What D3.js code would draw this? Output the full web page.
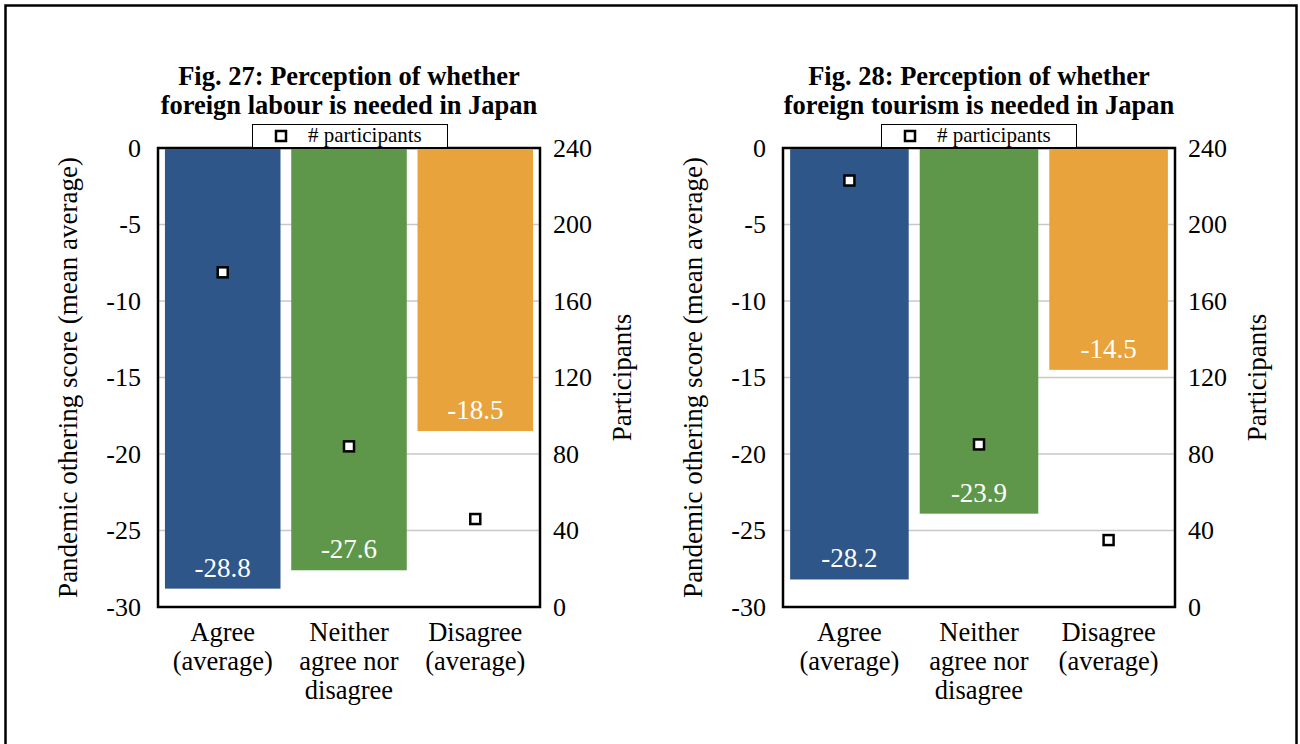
<!DOCTYPE html>
<html>
<head>
<meta charset="utf-8">
<script src="https://cdn.jsdelivr.net/npm/d3@7"></script>
<style>
  html, body { margin: 0; padding: 0; background: #fff; }
  svg { display: block; font-family: "Liberation Serif", "Times New Roman", serif; }
</style>
</head>
<body>
<svg id="chart" width="1300" height="744"></svg>
<script>
// Response categories (each label line is a separate entry)
const categories = ["Agree", "Neither", "Disagree"];
const categoryLines = [["Agree", "(average)"], ["Neither", "agree nor", "disagree"], ["Disagree", "(average)"]];
const barColors = ["#2e5689", "#5e974a", "#e8a33d"];

// Fig. 27: foreign labour
const labourTitle = ["Fig. 27: Perception of whether", "foreign labour is needed in Japan"];
const labourScores = [-28.8, -27.6, -18.5];
const labourParticipants = [175, 84, 46];

// Fig. 28: foreign tourism
const tourismTitle = ["Fig. 28: Perception of whether", "foreign tourism is needed in Japan"];
const tourismScores = [-28.2, -23.9, -14.5];
const tourismParticipants = [223, 85, 35];

// Axis ticks
const scoreTicks = [0, -5, -10, -15, -20, -25, -30];
const participantTicks = [0, 40, 80, 120, 160, 200, 240];

const leftTitle = "Pandemic othering score (mean average)";
const rightTitle = "Participants";
const legendLabel = "# participants";

const svg = d3.select("#chart");

// outer frame
svg.append("rect")
  .attr("x", 5.5).attr("y", 5.5)
  .attr("width", 1291).attr("height", 760)
  .attr("fill", "none").attr("stroke", "#000").attr("stroke-width", 2.5);

function drawPanel(opts) {
  const { x0, x1, y0, y1, title, scores, participants } = opts;
  const g = svg.append("g");

  const x = d3.scaleBand().domain(categories).range([x0, x1]).paddingInner(0.085).paddingOuter(0.055);
  const y = d3.scaleLinear().domain([-30, 0]).range([y1, y0]);
  const y2 = d3.scaleLinear().domain([0, 240]).range([y1, y0]);

  // gridlines
  g.append("g").selectAll("line")
    .data(scoreTicks.filter(t => t !== 0 && t !== -30))
    .join("line")
    .attr("x1", x0).attr("x2", x1)
    .attr("y1", d => y(d)).attr("y2", d => y(d))
    .attr("stroke", "#c8c8c8").attr("stroke-width", 1.5);

  // plot frame
  g.append("rect")
    .attr("x", x0).attr("y", y0)
    .attr("width", x1 - x0).attr("height", y1 - y0)
    .attr("fill", "none").attr("stroke", "#000").attr("stroke-width", 2.5);

  // bars
  g.append("g").selectAll("rect")
    .data(scores)
    .join("rect")
    .attr("x", (d, i) => x(categories[i]))
    .attr("width", x.bandwidth())
    .attr("y", y(0) + 1)
    .attr("height", d => y(d) - y(0) - 1)
    .attr("fill", (d, i) => barColors[i]);

  // value labels inside bar ends
  g.append("g").selectAll("text")
    .data(scores)
    .join("text")
    .attr("x", (d, i) => x(categories[i]) + x.bandwidth() / 2)
    .attr("y", d => y(d) - 12)
    .attr("text-anchor", "middle")
    .attr("fill", "#fff")
    .attr("font-size", 27)
    .text(d => d.toFixed(1));

  // participant markers
  g.append("g").selectAll("rect")
    .data(participants)
    .join("rect")
    .attr("x", (d, i) => x(categories[i]) + x.bandwidth() / 2 - 5)
    .attr("y", d => y2(d) - 5)
    .attr("width", 10).attr("height", 10)
    .attr("fill", "#fff").attr("stroke", "#000").attr("stroke-width", 2.5);

  // left axis
  const axL = d3.axisLeft(y).tickValues(scoreTicks).tickSize(0).tickPadding(17)
    .tickFormat(d => d === 0 ? "0" : "-" + Math.abs(d));
  const gl = g.append("g").attr("transform", `translate(${x0},0)`).call(axL);
  gl.select(".domain").remove();
  gl.selectAll("text").attr("font-size", 26).attr("font-family", "Liberation Serif").attr("fill", "#000");

  // right axis
  const axR = d3.axisRight(y2).tickValues(participantTicks).tickSize(0).tickPadding(13);
  const gr = g.append("g").attr("transform", `translate(${x1},0)`).call(axR);
  gr.select(".domain").remove();
  gr.selectAll("text").attr("font-size", 26).attr("font-family", "Liberation Serif").attr("fill", "#000");

  // category labels
  categories.forEach((c, i) => {
    const t = g.append("text")
      .attr("x", x(c) + x.bandwidth() / 2)
      .attr("y", y1 + 34)
      .attr("text-anchor", "middle")
      .attr("font-size", 26.5);
    categoryLines[i].forEach((line, j) => {
      t.append("tspan").attr("x", x(c) + x.bandwidth() / 2).attr("dy", j === 0 ? 0 : 29).text(line);
    });
  });

  // axis titles
  g.append("text")
    .attr("transform", `translate(${x0 - 81},${(y0 + y1) / 2}) rotate(-90)`)
    .attr("text-anchor", "middle")
    .attr("font-size", 27)
    .text(leftTitle);
  g.append("text")
    .attr("transform", `translate(${x1 + 91},${(y0 + y1) / 2}) rotate(-90)`)
    .attr("text-anchor", "middle")
    .attr("font-size", 27)
    .text(rightTitle);

  // chart title
  const cx = (x0 + x1) / 2;
  const tt = g.append("text")
    .attr("x", cx).attr("y", 85)
    .attr("text-anchor", "middle")
    .attr("font-size", 26.5).attr("font-weight", "bold");
  title.forEach((line, j) => {
    tt.append("tspan").attr("x", cx).attr("dy", j === 0 ? 0 : 29).text(line);
  });

  // legend
  const lx = opts.legendX, ly = 124;
  g.append("rect")
    .attr("x", lx + 0.5).attr("y", ly + 0.5)
    .attr("width", 195).attr("height", 23)
    .attr("fill", "#fff").attr("stroke", "#000").attr("stroke-width", 1);
  g.append("rect")
    .attr("x", lx + 24).attr("y", ly + 7)
    .attr("width", 10).attr("height", 10)
    .attr("fill", "#fff").attr("stroke", "#000").attr("stroke-width", 2.5);
  g.append("text")
    .attr("x", lx + 56).attr("y", ly + 18)
    .attr("font-size", 21)
    .text(legendLabel);
}

drawPanel({ x0: 158, x1: 540, y0: 148, y1: 607, title: labourTitle, scores: labourScores, participants: labourParticipants, legendX: 252 });
drawPanel({ x0: 783, x1: 1175, y0: 148, y1: 607, title: tourismTitle, scores: tourismScores, participants: tourismParticipants, legendX: 881 });
</script>
</body>
</html>
